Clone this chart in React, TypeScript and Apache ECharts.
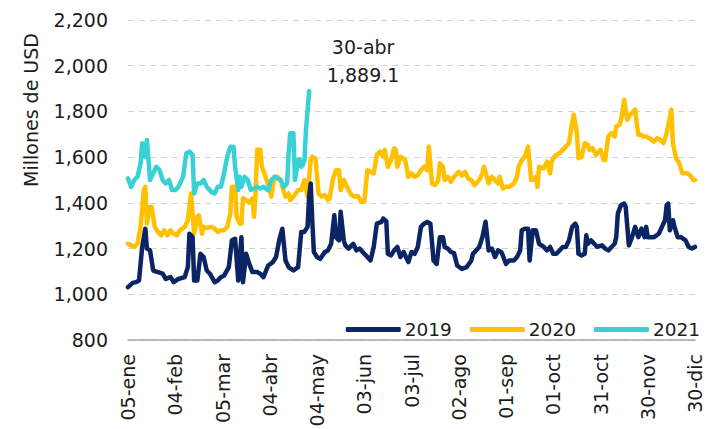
import React, { useEffect, useRef } from "react";
import * as echarts from "echarts";

// x = day index counted from 05-ene (labels every 30 days)
const xTickLabels = [
  "05-ene", "04-feb", "05-mar", "04-abr", "04-may", "03-jun", "03-jul",
  "02-ago", "01-sep", "01-oct", "31-oct", "30-nov", "30-dic",
];

const seriesNames = ["2019", "2020", "2021"];

const data2019: [number, number][] = [
  [0, 1031], [3, 1050], [5, 1053], [7, 1060], [9, 1207], [11, 1287], [12, 1200], [14, 1192],
  [16, 1104], [19, 1097], [22, 1090], [24, 1067], [27, 1075], [29, 1053], [32, 1067], [36, 1075],
  [38, 1119], [39, 1265], [41, 1250], [42, 1060], [44, 1060], [46, 1177], [48, 1163], [50, 1104],
  [52, 1090], [55, 1053], [57, 1060], [59, 1075], [61, 1082], [64, 1119], [66, 1236], [68, 1243],
  [70, 1060], [72, 1250], [73, 1053], [75, 1177], [77, 1133], [79, 1097], [82, 1097], [84, 1090],
  [86, 1075], [89, 1126], [92, 1141], [94, 1163], [96, 1236], [98, 1287], [100, 1148], [102, 1119],
  [105, 1104], [108, 1119], [110, 1273], [112, 1273], [114, 1295], [115, 1427], [116, 1485], [117, 1324],
  [118, 1185], [120, 1163], [122, 1155], [125, 1185], [127, 1192], [129, 1221], [131, 1346], [132, 1250],
  [134, 1236], [135, 1361], [137, 1236], [138, 1214], [140, 1200], [143, 1221], [145, 1192], [147, 1200],
  [149, 1185], [152, 1163], [154, 1148], [156, 1207], [158, 1309], [161, 1317], [162, 1331], [164, 1320],
  [165, 1177], [167, 1170], [169, 1192], [171, 1207], [173, 1163], [175, 1185], [178, 1141], [180, 1185],
  [182, 1177], [184, 1207], [186, 1295], [188, 1309], [190, 1317], [192, 1309], [194, 1148], [196, 1133],
  [198, 1250], [200, 1250], [201, 1207], [203, 1200], [205, 1185], [207, 1180], [209, 1126], [212, 1111],
  [215, 1119], [218, 1148], [219, 1177], [221, 1192], [223, 1207], [225, 1250], [227, 1317], [229, 1192],
  [231, 1200], [233, 1163], [235, 1192], [237, 1185], [238, 1170], [240, 1133], [242, 1148], [245, 1148],
  [247, 1163], [249, 1192], [250, 1280], [252, 1287], [254, 1287], [255, 1148], [257, 1280], [259, 1280],
  [261, 1221], [264, 1207], [266, 1192], [268, 1207], [270, 1177], [272, 1177], [274, 1192], [276, 1207],
  [278, 1207], [280, 1236], [282, 1295], [284, 1309], [285, 1295], [286, 1177], [288, 1170], [290, 1177],
  [291, 1258], [292, 1221], [294, 1236], [296, 1221], [298, 1207], [301, 1214], [303, 1200], [305, 1192],
  [307, 1207], [309, 1221], [310, 1250], [311, 1353], [313, 1390], [315, 1397], [316, 1382], [318, 1214],
  [320, 1250], [322, 1295], [324, 1250], [326, 1287], [328, 1250], [329, 1295], [330, 1250], [332, 1250],
  [334, 1250], [337, 1265], [339, 1295], [341, 1324], [342, 1390], [343, 1397], [344, 1280], [346, 1324],
  [347, 1295], [349, 1250], [351, 1250], [354, 1236], [356, 1207], [358, 1200], [360, 1207],
];

const data2020: [number, number][] = [
  [0, 1221], [2, 1214], [4, 1207], [6, 1221], [8, 1295], [10, 1456], [11, 1470], [12, 1309],
  [14, 1382], [15, 1382], [17, 1295], [19, 1273], [21, 1258], [23, 1280], [25, 1258], [27, 1280],
  [29, 1265], [31, 1258], [33, 1280], [36, 1295], [38, 1324], [40, 1441], [42, 1265], [44, 1339],
  [45, 1345], [47, 1265], [48, 1295], [50, 1290], [53, 1295], [55, 1288], [57, 1273], [59, 1280],
  [61, 1280], [63, 1295], [65, 1353], [66, 1470], [68, 1470], [69, 1339], [71, 1309], [72, 1309],
  [73, 1420], [75, 1412], [77, 1400], [79, 1420], [80, 1339], [81, 1441], [82, 1632], [84, 1632],
  [85, 1558], [88, 1500], [90, 1456], [91, 1427], [93, 1514], [95, 1514], [97, 1500], [98, 1470],
  [100, 1427], [102, 1441], [103, 1412], [105, 1427], [108, 1456], [110, 1456], [112, 1500], [114, 1427],
  [116, 1587], [117, 1602], [119, 1595], [121, 1441], [123, 1427], [125, 1434], [127, 1412], [128, 1420],
  [130, 1500], [132, 1543], [134, 1543], [135, 1456], [137, 1500], [140, 1456], [142, 1434], [144, 1427],
  [146, 1430], [148, 1405], [150, 1405], [152, 1543], [154, 1536], [156, 1529], [158, 1610], [160, 1624],
  [162, 1602], [163, 1632], [165, 1558], [167, 1587], [169, 1639], [170, 1630], [171, 1558], [173, 1602],
  [176, 1587], [178, 1514], [180, 1529], [182, 1514], [184, 1520], [186, 1543], [188, 1558], [190, 1543],
  [191, 1646], [193, 1485], [195, 1478], [197, 1500], [198, 1573], [200, 1558], [201, 1500], [203, 1514],
  [205, 1492], [207, 1514], [210, 1536], [212, 1520], [214, 1536], [216, 1507], [218, 1500], [220, 1478],
  [221, 1485], [223, 1500], [225, 1529], [226, 1558], [229, 1485], [231, 1514], [233, 1500], [235, 1485],
  [236, 1514], [238, 1463], [240, 1470], [242, 1470], [245, 1485], [247, 1514], [248, 1558], [250, 1587],
  [252, 1602], [254, 1646], [256, 1500], [257, 1500], [259, 1514], [260, 1470], [261, 1558], [264, 1551],
  [266, 1580], [268, 1529], [269, 1580], [270, 1595], [272, 1610], [274, 1617], [276, 1632], [278, 1646],
  [280, 1661], [282, 1749], [283, 1786], [285, 1705], [286, 1595], [288, 1602], [290, 1661], [292, 1654],
  [293, 1632], [295, 1640], [297, 1610], [300, 1632], [302, 1587], [303, 1587], [304, 1646], [305, 1690],
  [307, 1705], [309, 1690], [310, 1734], [312, 1741], [313, 1763], [314, 1800], [315, 1851], [317, 1763],
  [318, 1778], [320, 1793], [322, 1808], [323, 1749], [324, 1698], [326, 1698], [327, 1690], [329, 1690],
  [331, 1683], [334, 1668], [336, 1683], [338, 1675], [340, 1661], [342, 1705], [345, 1808], [346, 1661],
  [348, 1595], [350, 1573], [352, 1529], [355, 1529], [357, 1520], [359, 1500], [360, 1500],
];

const data2021: [number, number][] = [
  [0, 1507], [2, 1470], [4, 1500], [6, 1514], [8, 1573], [9, 1661], [11, 1602], [12, 1675],
  [14, 1500], [16, 1529], [18, 1558], [20, 1543], [22, 1500], [24, 1485], [26, 1500], [28, 1456],
  [30, 1456], [32, 1470], [35, 1514], [37, 1617], [39, 1624], [41, 1610], [42, 1441], [44, 1485],
  [46, 1485], [48, 1500], [50, 1470], [53, 1448], [55, 1441], [57, 1470], [59, 1470], [61, 1529],
  [63, 1602], [65, 1646], [67, 1646], [68, 1558], [70, 1456], [71, 1514], [72, 1470], [74, 1514],
  [76, 1500], [78, 1456], [80, 1463], [82, 1470], [84, 1463], [86, 1470], [89, 1456], [91, 1500],
  [93, 1514], [95, 1507], [97, 1500], [99, 1470], [101, 1485], [102, 1617], [103, 1705], [105, 1705],
  [106, 1500], [108, 1587], [109, 1590], [110, 1558], [111, 1565], [112, 1587], [113, 1719], [115, 1889.1],
];

const peakLabel = "30-abr";
const peakValue = 1889.1;
const peakDay = 115;

const colors = ["#0b2463", "#ffc000", "#38d1d6"];
const FONT = "DejaVu Sans";
const TXT = "#1c1c1c";

export default function App() {
  const ref = useRef<HTMLDivElement>(null);
  useEffect(() => {
    if (!ref.current) return;
    const chart = echarts.init(ref.current, undefined, { renderer: "svg" });
    const datasets = [data2019, data2020, data2021];
    const zs = [4, 2, 3];
    chart.setOption({
      animation: false,
      backgroundColor: "#ffffff",
      textStyle: { fontFamily: FONT },
      grid: { left: 128, right: 26, top: 20, bottom: 89, outerBoundsMode: "none", containLabel: false },
      legend: {
        data: seriesNames,
        right: 16,
        top: 315,
        itemWidth: 55,
        itemHeight: 5,
        itemGap: 18,
        icon: "roundRect",
        textStyle: { fontSize: 18.5, color: TXT, fontFamily: FONT, padding: [0, 0, 0, -1] },
      },
      xAxis: {
        type: "value",
        min: 0,
        max: 360,
        interval: 30,
        axisLine: { show: true, lineStyle: { color: "#a6a6a6", width: 1.5 } },
        axisTick: { show: false },
        splitLine: { show: false },
        axisLabel: {
          rotate: 90,
          margin: 14,
          fontSize: 19,
          color: TXT,
          fontFamily: FONT,
          hideOverlap: false,
          formatter: (v: number) => xTickLabels[Math.round(v / 30)] ?? "",
        },
      },
      yAxis: {
        type: "value",
        min: 800,
        max: 2200,
        interval: 200,
        axisLine: { show: false },
        axisTick: { show: false },
        splitLine: { show: true, lineStyle: { color: "#d3d3d3", type: [6, 5], width: 1 } },
        axisLabel: {
          margin: 20,
          fontSize: 19,
          color: TXT,
          fontFamily: FONT,
          formatter: (v: number) => v.toLocaleString("en-US"),
        },
      },
      graphic: [
        {
          type: "text",
          x: 31,
          y: 110,
          rotation: Math.PI / 2,
          style: {
            text: "Millones de USD",
            fontSize: 19,
            fontFamily: FONT,
            fill: TXT,
            align: "center",
            verticalAlign: "middle",
          },
        },
      ],
      series: seriesNames.map((name, i) => ({
        name,
        type: "line",
        data: datasets[i],
        showSymbol: false,
        symbol: "none",
        z: zs[i],
        color: colors[i],
        lineStyle: { width: 4.5, color: colors[i], join: "round", cap: "round" },
        markPoint:
          i === 2
            ? {
                symbol: "circle",
                symbolSize: 0,
                data: [{ coord: [peakDay, peakValue] }],
                label: {
                  show: true,
                  position: "top",
                  distance: 2,
                  offset: [54, 0],
                  fontSize: 19,
                  lineHeight: 28,
                  color: TXT,
                  fontFamily: FONT,
                  formatter: () =>
                    peakLabel + "\n" + peakValue.toLocaleString("en-US", { minimumFractionDigits: 1 }),
                },
              }
            : undefined,
      })),
    });
    return () => chart.dispose();
  }, []);
  return <div ref={ref} style={{ width: 721, height: 429, position: "absolute", left: 0, top: 0 }} />;
}
